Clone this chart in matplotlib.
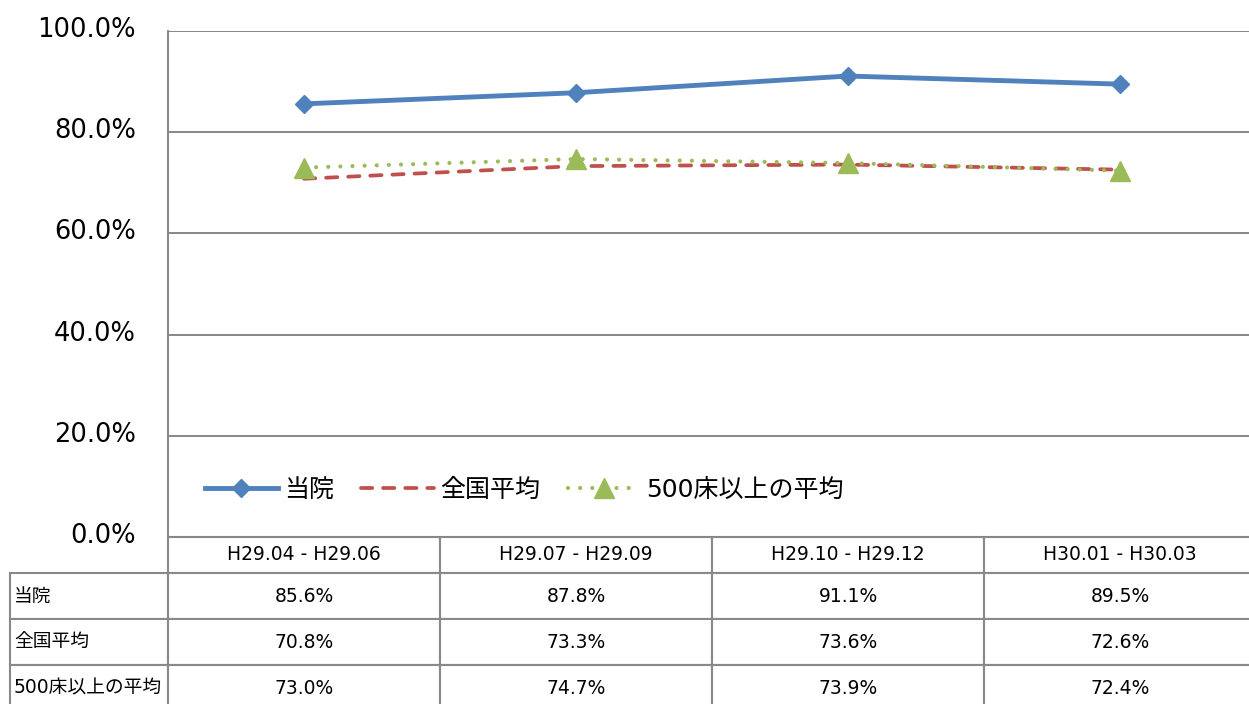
import matplotlib.pyplot as plt
from matplotlib.table import Table
from matplotlib.transforms import ScaledTranslation

plt.rcParams['font.family'] = ['DejaVu Sans', 'Noto Sans CJK JP']

# data
periods = ['H29.04 - H29.06', 'H29.07 - H29.09', 'H29.10 - H29.12', 'H30.01 - H30.03']
names = ['当院', '全国平均', '500床以上の平均']
toin = [85.6, 87.8, 91.1, 89.5]
zenkoku = [70.8, 73.3, 73.6, 72.6]
over500 = [73.0, 74.7, 73.9, 72.4]
yticks = [0, 20, 40, 60, 80, 100]

W, H = 1249, 704
AW, AH = 1088, 506  # plot area in px (right column runs past the edge)
fig = plt.figure(figsize=(W / 100, H / 100), dpi=100)
ax = fig.add_axes([168 / W, 1 - 537 / H, AW / W, AH / H])

x = list(range(len(periods)))
ax.plot(x, toin, color='#4F81BD', lw=3.5, marker='D', ms=9.5,
        mec='#4F81BD', label=names[0], zorder=3)
ax.plot(x, zenkoku, color='#C0504D', lw=2.7, dashes=(3, 2.9),
        dash_capstyle='round', label=names[1], zorder=3)
ax.plot(x, over500, color='#9BBB59', lw=3, dashes=(0.01, 2.9),
        dash_capstyle='round', marker='^', ms=14, mec='#9BBB59',
        label=names[2], zorder=3)

ax.set_xlim(-0.5, 3.5)
ax.set_ylim(0, 100)
ax.set_xticks([])
ax.set_yticks(yticks)
ax.set_yticklabels([f'{v:.1f}%' for v in yticks])
ax.tick_params(axis='y', length=0, pad=23, labelsize=18.5)
# labels sit a little above their gridlines
up = ScaledTranslation(0, 4 / 100, fig.dpi_scale_trans)
for lab in ax.get_yticklabels():
    lab.set_transform(lab.get_transform() + up)
ax.grid(axis='y', color='#878787', lw=1.4)
ax.set_axisbelow(True)
for s in ['top', 'right', 'bottom']:
    ax.spines[s].set_visible(False)
ax.spines['left'].set_color('#878787')
ax.spines['left'].set_linewidth(1.4)

ax.legend(loc='center left', bbox_to_anchor=(37 / AW, 47 / AH), ncol=3,
          frameon=False, fontsize=18, handlelength=2.9, handletextpad=0.25,
          columnspacing=1.1, borderpad=0, borderaxespad=0)

# data table under the chart (sizes in axes fractions)
col_w = 272 / AW
lab_w = 158 / AW
head_h = 36 / AH
row_h = 46 / AH
tbl_h = head_h + 3 * row_h
tbl = Table(ax, bbox=[0, -tbl_h, 1, tbl_h])
for j, p in enumerate(periods):
    tbl.add_cell(0, j, col_w, head_h, text=p, loc='center')
for i, (name, vals) in enumerate(zip(names, [toin, zenkoku, over500])):
    c = tbl.add_cell(i + 1, -1, lab_w, row_h, text=name, loc='left')
    c.PAD = 0.025
    for j, v in enumerate(vals):
        tbl.add_cell(i + 1, j, col_w, row_h, text=f'{v:.1f}%', loc='center')
tbl.auto_set_font_size(False)
tbl.set_fontsize(13.5)
for c in tbl.get_celld().values():
    c.set_edgecolor('#898989')
    c.set_linewidth(1.5)
ax.add_table(tbl)

fig.savefig('out.png', dpi=100)
